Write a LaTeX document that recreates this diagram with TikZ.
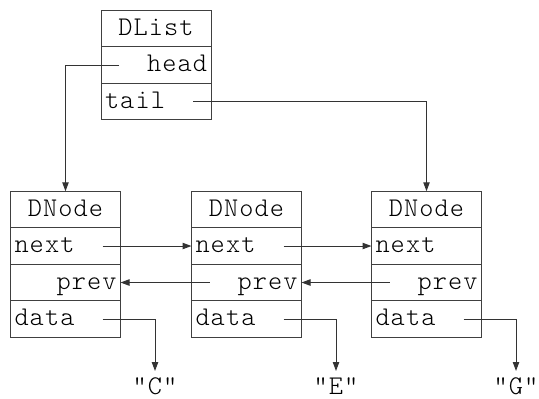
\documentclass[tikz,border=0pt]{standalone}
\usepackage{fontspec}
\newfontfamily\codefont[LetterSpace=4]{Latin Modern Mono Light}
\usepackage{tikz}
\usetikzlibrary{arrows.meta,positioning}

\begin{document}
\begin{tikzpicture}[
  x=0.5pt, y=-0.5pt,
  field/.style={draw=black!75, line width=0.5pt, outer sep=0pt, minimum height=18.25pt,
    text width=51pt, inner xsep=2pt, inner ysep=0pt, text height=9pt, text depth=2.5pt,
    font=\codefont\fontsize{13.5pt}{15pt}\selectfont},
  title/.style={field, align=center},
  lfield/.style={field, align=left},
  rfield/.style={field, align=right},
  value/.style={font=\codefont\fontsize{13.5pt}{15pt}\selectfont, anchor=north,
    inner sep=1pt, text height=10.5pt, text depth=0pt},
  ptr/.style={draw=black!80, line width=0.5pt, -{Triangle[length=4.5pt,width=3.2pt]}}
]
\useasboundingbox (0,0) rectangle (539,398);

% list header
\node[title] (L) at (156,28.5) {DList};
\node[rfield, below=0pt of L] (Lhead) {head};
\node[lfield, below=0pt of Lhead] (Ltail) {tail};

% the three list nodes
\node[title] (N1) at (65.5,209.5) {DNode};
\node[lfield, below=0pt of N1] (N1next) {next};
\node[rfield, below=0pt of N1next] (N1prev) {prev};
\node[lfield, below=0pt of N1prev] (N1data) {data};

\node[title] (N2) at (246.5,209.5) {DNode};
\node[lfield, below=0pt of N2] (N2next) {next};
\node[rfield, below=0pt of N2next] (N2prev) {prev};
\node[lfield, below=0pt of N2prev] (N2data) {data};

\node[title] (N3) at (426.5,209.5) {DNode};
\node[lfield, below=0pt of N3] (N3next) {next};
\node[rfield, below=0pt of N3next] (N3prev) {prev};
\node[lfield, below=0pt of N3prev] (N3data) {data};

% payload strings
\node[value] (s1) at (155,371) {"C"};
\node[value] (s2) at (336,371) {"E"};
\node[value] (s3) at (516,371) {"G"};

% where the pointers leave their fields
\coordinate (h0) at ([xshift=9pt]Lhead.west);
\coordinate (t0) at ([xshift=-9pt]Ltail.east);
\coordinate (n1) at ([xshift=-9pt]N1next.east);
\coordinate (n2) at ([xshift=-9pt]N2next.east);
\coordinate (p2) at ([xshift=9pt]N2prev.west);
\coordinate (p3) at ([xshift=9pt]N3prev.west);
\coordinate (d1) at ([xshift=-9pt]N1data.east);
\coordinate (d2) at ([xshift=-9pt]N2data.east);
\coordinate (d3) at ([xshift=-9pt]N3data.east);

\draw[ptr] (h0) -| (N1.north);
\draw[ptr] (t0) -| (N3.north);
\draw[ptr] (n1) -- (N2next.west);
\draw[ptr] (n2) -- (N3next.west);
\draw[ptr] (p2) -- (N1prev.east);
\draw[ptr] (p3) -- (N2prev.east);
\draw[ptr] (d1) -| (s1.north);
\draw[ptr] (d2) -| (s2.north);
\draw[ptr] (d3) -| (s3.north);
\end{tikzpicture}
\end{document}
